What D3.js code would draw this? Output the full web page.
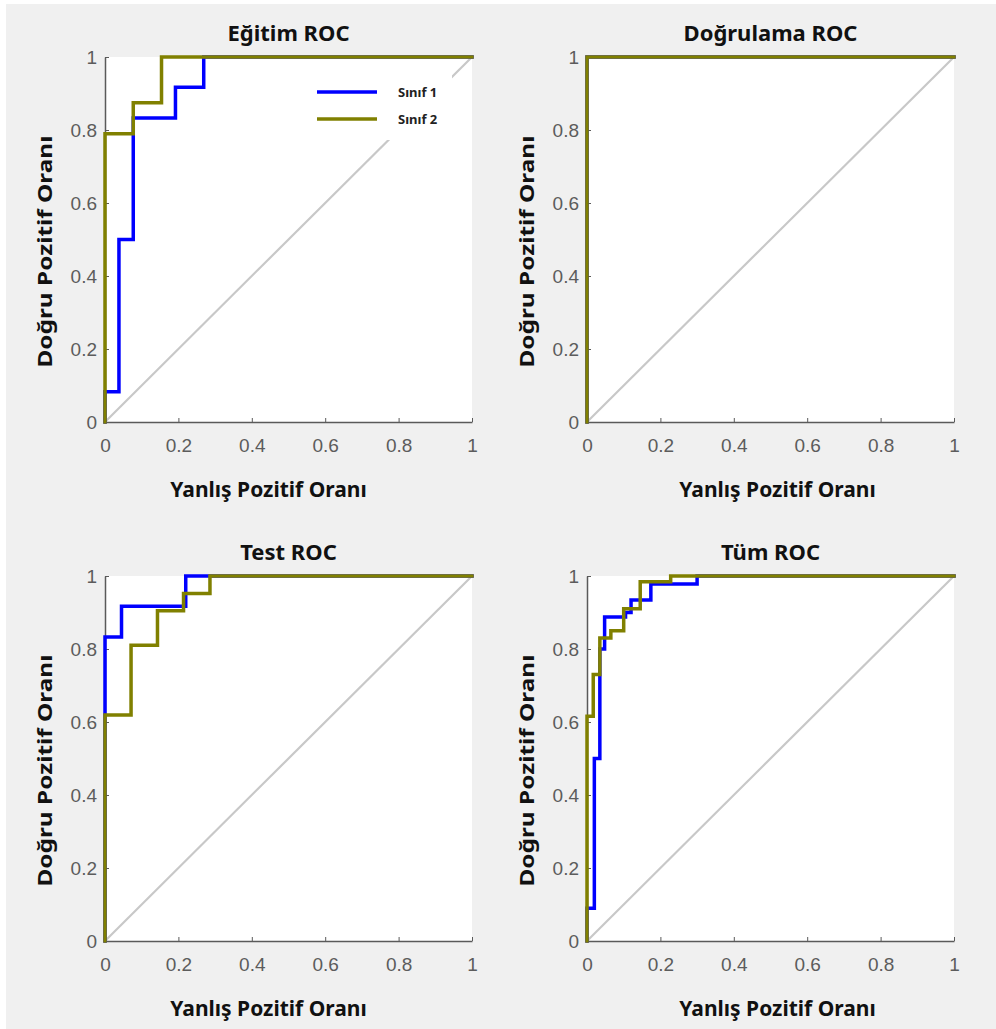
<!DOCTYPE html>
<html>
<head>
<meta charset="utf-8">
<script src="https://cdn.jsdelivr.net/npm/d3@7"></script>
<style>
  body { margin: 0; background: #fff; }
  svg { display: block; }
</style>
</head>
<body>
<div class="box"></div>
<script>
// Tick values / labels shared by all panels
const tickValues = [0, 0.2, 0.4, 0.6, 0.8, 1];
const tickLabels = ['0', '0.2', '0.4', '0.6', '0.8', '1'];
const panelTitles = ['Eğitim ROC', 'Doğrulama ROC', 'Test ROC', 'Tüm ROC'];
const seriesNames = ['Sınıf 1', 'Sınıf 2'];

// Eğitim (training)
const egitimFpr1 = [0, 0, 0.038, 0.038, 0.077, 0.077, 0.192, 0.192, 0.269, 0.269, 1];
const egitimTpr1 = [0, 0.083, 0.083, 0.5, 0.5, 0.833, 0.833, 0.917, 0.917, 1, 1];
const egitimFpr2 = [0, 0, 0.077, 0.077, 0.154, 0.154, 1];
const egitimTpr2 = [0, 0.79, 0.79, 0.875, 0.875, 1, 1];

// Doğrulama (validation)
const dogrulamaFpr1 = [0, 0, 1];
const dogrulamaTpr1 = [0, 1, 1];
const dogrulamaFpr2 = [0, 0, 1];
const dogrulamaTpr2 = [0, 1, 1];

// Test
const testFpr1 = [0, 0, 0.045, 0.045, 0.22, 0.22, 1];
const testTpr1 = [0, 0.833, 0.833, 0.917, 0.917, 1, 1];
const testFpr2 = [0, 0, 0.071, 0.071, 0.143, 0.143, 0.214, 0.214, 0.286, 0.286, 1];
const testTpr2 = [0, 0.619, 0.619, 0.81, 0.81, 0.905, 0.905, 0.952, 0.952, 1, 1];

// Tüm (all)
const tumFpr1 = [0, 0, 0.02, 0.02, 0.035, 0.035, 0.048, 0.048, 0.105, 0.105, 0.12, 0.12, 0.174, 0.174, 0.3, 0.3, 1];
const tumTpr1 = [0, 0.09, 0.09, 0.5, 0.5, 0.8, 0.8, 0.888, 0.888, 0.9, 0.9, 0.934, 0.934, 0.978, 0.978, 1, 1];
const tumFpr2 = [0, 0, 0.017, 0.017, 0.035, 0.035, 0.065, 0.065, 0.1, 0.1, 0.145, 0.145, 0.228, 0.228, 1];
const tumTpr2 = [0, 0.616, 0.616, 0.73, 0.73, 0.83, 0.83, 0.85, 0.85, 0.91, 0.91, 0.984, 0.984, 1, 1];

const panelData = [
  [[egitimFpr1, egitimTpr1], [egitimFpr2, egitimTpr2]],
  [[dogrulamaFpr1, dogrulamaTpr1], [dogrulamaFpr2, dogrulamaTpr2]],
  [[testFpr1, testTpr1], [testFpr2, testTpr2]],
  [[tumFpr1, tumTpr1], [tumFpr2, tumTpr2]]
];
const colors = ['#0000ff', '#808000'];

const svg = d3.select('.box')
              .append('svg')
              .attr('width', 996)
              .attr('height', 1029);

svg.append('rect')
   .attr('x', 6).attr('y', 4)
   .attr('width', 990).attr('height', 1025)
   .attr('fill', '#f0f0f0');

// panel geometry
const plotW = 367, plotH = 365;
const origins = [[105, 57], [587, 57], [105, 576], [587, 576]];
const xLabelShift = [-20, 7, -20, 7];
const labelFont = '"Noto Sans", "Open Sans", sans-serif';

origins.forEach(([ox, oy], i) => {
  const g = svg.append('g').attr('transform', `translate(${ox}, ${oy})`);

  const x = d3.scaleLinear().domain([0, 1]).range([0, plotW]);
  const y = d3.scaleLinear().domain([0, 1]).range([plotH, 0]);

  g.append('rect')
   .attr('width', plotW).attr('height', plotH)
   .attr('fill', '#fff');

  // diagonal reference
  g.append('line')
   .attr('x1', x(0)).attr('y1', y(0))
   .attr('x2', x(1)).attr('y2', y(1))
   .attr('stroke', '#c8c8c8')
   .attr('stroke-width', 2.2);

  // axes
  const axeX = d3.axisBottom(x).tickValues(tickValues)
                 .tickFormat((d, k) => tickLabels[k])
                 .tickSizeInner(-4).tickSizeOuter(0).tickPadding(17);
  const axeY = d3.axisLeft(y).tickValues(tickValues)
                 .tickFormat((d, k) => tickLabels[k])
                 .tickSizeInner(-4).tickSizeOuter(0).tickPadding(8);

  const groupeX = g.append('g').attr('transform', `translate(0, ${plotH})`).call(axeX);
  const groupeY = g.append('g').call(axeY);

  [groupeX, groupeY].forEach(ax => {
    ax.select('.domain').attr('stroke', '#5a5a5a').attr('stroke-width', 1.5);
    ax.selectAll('.tick line').attr('stroke', '#5a5a5a');
    ax.selectAll('text')
      .attr('fill', '#5c5c5c')
      .style('font-family', '"Liberation Sans", Arial, sans-serif')
      .style('font-size', '19px');
  });

  // legend (first panel only), white box hides the diagonal behind it
  if (i === 0) {
    const lg = g.append('g');
    lg.append('rect')
      .attr('x', 200).attr('y', 13)
      .attr('width', 147).attr('height', 70)
      .attr('fill', '#fff');
    seriesNames.forEach((name, k) => {
      lg.append('line')
        .attr('x1', 212).attr('x2', 272)
        .attr('y1', 35 + k * 27).attr('y2', 35 + k * 27)
        .attr('stroke', colors[k]).attr('stroke-width', 3.5);
      lg.append('text')
        .attr('x', 293).attr('y', 35 + k * 27)
        .attr('dy', '0.35em')
        .attr('fill', '#222')
        .style('font-family', labelFont)
        .style('font-weight', 'bold')
        .style('font-size', '13px')
        .text(name);
    });
  }

  // ROC curves
  const line = d3.line().x(d => x(d[0])).y(d => y(d[1]));
  panelData[i].forEach(([fpr, tpr], k) => {
    const pts = fpr.map((f, j) => [f, tpr[j]]);
    g.append('path')
     .datum(pts)
     .attr('d', line)
     .attr('fill', 'none')
     .attr('stroke', colors[k])
     .attr('stroke-width', 3.5)
     .attr('stroke-linejoin', 'miter')
     .attr('stroke-linecap', 'square');
  });

  // titles and labels
  g.append('text')
   .attr('x', plotW / 2).attr('y', -24)
   .attr('dy', '0.35em')
   .attr('text-anchor', 'middle')
   .attr('fill', '#111')
   .style('font-family', labelFont)
   .style('font-weight', 'bold')
   .style('font-size', '22px')
   .text(panelTitles[i]);

  g.append('text')
   .attr('x', plotW / 2 + xLabelShift[i]).attr('y', plotH + 68)
   .attr('dy', '0.35em')
   .attr('text-anchor', 'middle')
   .attr('fill', '#111')
   .style('font-family', labelFont)
   .style('font-weight', 'bold')
   .style('font-size', '21px')
   .text('Yanlış Pozitif Oranı');

  g.append('text')
   .attr('transform', `translate(-60, ${plotH / 2 + 12}) rotate(-90)`)
   .attr('dy', '0.35em')
   .attr('text-anchor', 'middle')
   .attr('fill', '#111')
   .attr('textLength', 232)
   .attr('lengthAdjust', 'spacingAndGlyphs')
   .style('font-family', labelFont)
   .style('font-weight', 'bold')
   .style('font-size', '20px')
   .text('Doğru Pozitif Oranı');
});
</script>
</body>
</html>
